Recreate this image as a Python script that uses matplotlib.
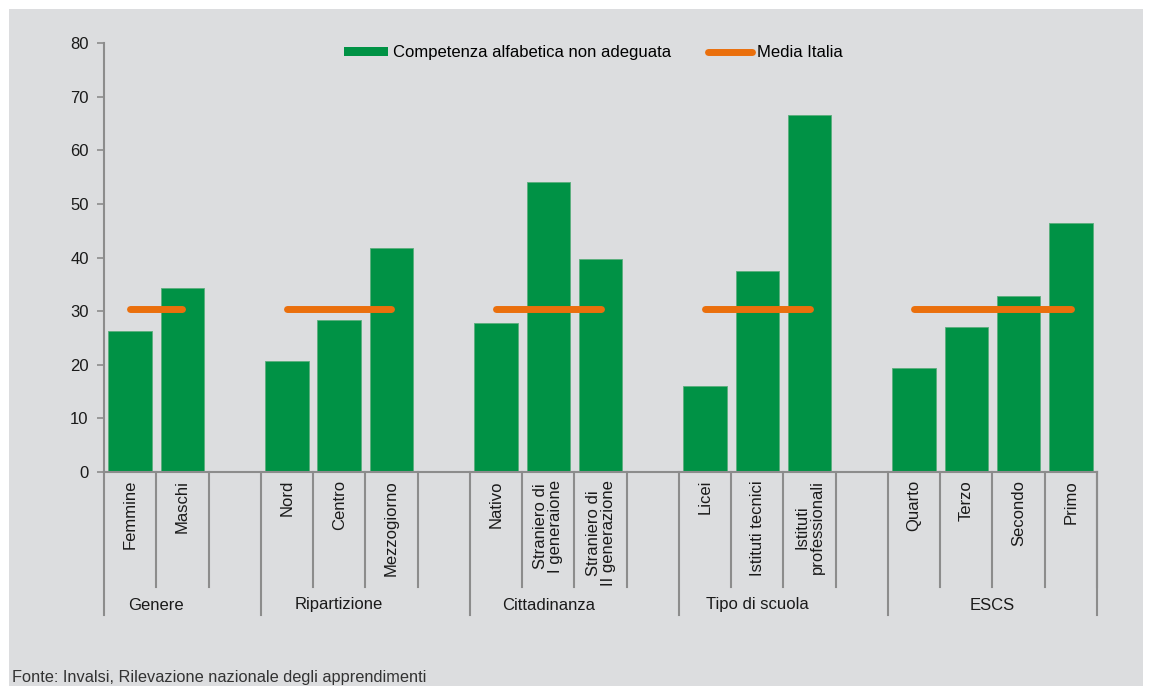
import numpy as np
import matplotlib
matplotlib.use('Agg')
import matplotlib.pyplot as plt
from matplotlib.patches import Rectangle
from matplotlib.lines import Line2D
from matplotlib.patches import Patch

plt.rcParams['font.family'] = ['Liberation Sans', 'DejaVu Sans']

# data
group_names = ['Genere', 'Ripartizione', 'Cittadinanza', 'Tipo di scuola', 'ESCS']
group_labels = [
    ['Femmine', 'Maschi'],
    ['Nord', 'Centro', 'Mezzogiorno'],
    ['Nativo', 'Straniero di\nI generaione', 'Straniero di\nII generazione'],
    ['Licei', 'Istituti tecnici', 'Istituti\nprofessionali'],
    ['Quarto', 'Terzo', 'Secondo', 'Primo'],
]
group_values = [
    [26.3, 34.3],
    [20.7, 28.4, 41.8],
    [27.8, 54.1, 39.7],
    [16.0, 37.5, 66.6],
    [19.4, 27.1, 32.8, 46.5],
]
media_italia = 30.4

GREEN = '#009245'
ORANGE = '#ea6f0c'
BG = '#dcdddf'
AXC = '#8c8c8c'
TXT = '#1a1a1a'
FS = 12

W, H = 1149, 686
fig = plt.figure(figsize=(W / 100, H / 100), dpi=100)
fig.patch.set_facecolor('white')
fig.patches.append(Rectangle((9 / W, 0), (1143 - 9) / W, (H - 9) / H,
                             transform=fig.transFigure, facecolor=BG,
                             edgecolor='none', zorder=-10))

ax = fig.add_axes([104 / W, (H - 472) / H, (1097 - 104) / W, (472 - 43) / H])
ax.set_facecolor('none')

# slot positions: one blank slot between groups
positions = []
pos = 0
for labels in group_labels:
    positions.append(list(range(pos, pos + len(labels))))
    pos += len(labels) + 1
n_slots = pos - 1

for xs, vals in zip(positions, group_values):
    ax.bar(xs, vals, width=0.83, color=GREEN, edgecolor='#5aae7c', linewidth=0.6, zorder=2)
    ax.plot([xs[0], xs[-1]], [media_italia, media_italia], color=ORANGE, lw=5,
            solid_capstyle='round', zorder=3)

ax.set_xlim(-0.5, n_slots - 0.5)
ax.set_ylim(0, 80)
ax.set_yticks(range(0, 81, 10))
ax.tick_params(axis='y', direction='out', length=5, width=1.2, color=AXC,
               labelsize=FS, pad=6, labelcolor=TXT)
ax.set_xticks([])
for s in ['top', 'right']:
    ax.spines[s].set_visible(False)
for s in ['left', 'bottom']:
    ax.spines[s].set_color(AXC)
    ax.spines[s].set_linewidth(1.5)

trans = ax.get_xaxis_transform()
px = 1 / (472 - 43)  # one pixel in axes fraction
short_y = -(587 - 472) * px
long_y = -(615 - 472) * px

for xs, labels, name in zip(positions, group_labels, group_names):
    start = xs[0] - 0.5
    ax.plot([start, start], [0, long_y], transform=trans, color=AXC, lw=1.5, clip_on=False)
    for x, lab in zip(xs, labels):
        ax.plot([x + 0.5, x + 0.5], [0, short_y], transform=trans, color=AXC, lw=1.5, clip_on=False)
        ax.text(x, -8 * px, lab, transform=trans, rotation=90, ha='center', va='top',
                fontsize=FS, color=TXT, multialignment='center', linespacing=1.0)
    ax.text((xs[0] + xs[-1]) / 2, -(605 - 472) * px, name, transform=trans,
            ha='center', va='center', fontsize=FS, color=TXT)
ax.plot([n_slots - 0.5, n_slots - 0.5], [0, long_y], transform=trans, color=AXC, lw=1.5, clip_on=False)

handles = [Patch(facecolor=GREEN, edgecolor='none'),
           Line2D([0], [0], color=ORANGE, lw=5, solid_capstyle='round')]
ax.legend(handles, ['Competenza alfabetica non adeguata', 'Media Italia'],
          loc='center', bbox_to_anchor=(0.493, 0.977), ncol=2, frameon=False,
          fontsize=FS, handlelength=2.65, handleheight=0.5, columnspacing=2.2,
          handletextpad=0.3)

fig.text(12 / W, 1 / H, 'Fonte: Invalsi, Rilevazione nazionale degli apprendimenti',
         fontsize=11.8, color='#333333', ha='left', va='bottom')

fig.savefig('out.png', dpi=100)
